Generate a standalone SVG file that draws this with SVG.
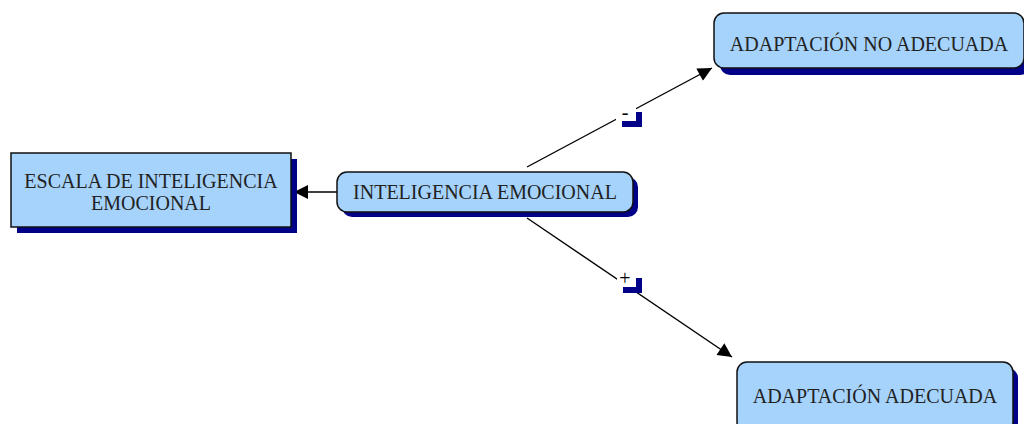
<svg xmlns="http://www.w3.org/2000/svg" width="1024" height="424" viewBox="0 0 1024 424">
<defs>
<style>
.box{fill:#a6d3fb;stroke:#111;stroke-width:1.5}
.sh{fill:#000088}
.t{font-family:"Liberation Serif","Times New Roman",serif;font-size:20px;fill:#222;text-anchor:middle}
.c{stroke:#000;stroke-width:1.4;fill:none}
.lbl{fill:#fff}
.lt{font-family:"Liberation Serif","Times New Roman",serif;font-size:20px;fill:#000;text-anchor:middle}
</style>
<marker id="ahb" viewBox="0 0 10 10" refX="10" refY="5" markerWidth="16" markerHeight="14" markerUnits="userSpaceOnUse" orient="auto">
<path d="M0,0 L10,5 L0,10 z" fill="#000"/>
</marker>
</defs>
<g id="connectors">
<line class="c" x1="337" y1="192" x2="294" y2="192" marker-end="url(#ahb)"/>
<line class="c" x1="527" y1="167" x2="712" y2="68" marker-end="url(#ahb)"/>
<line class="c" x1="527" y1="218" x2="732" y2="357" marker-end="url(#ahb)"/>
<g id="label-minus">
<rect class="sh" x="622" y="112" width="20" height="15"/>
<rect class="lbl" x="616" y="106" width="20" height="15"/>
<text class="lt" x="625" y="119">-</text>
</g>
<g id="label-plus">
<rect class="sh" x="623" y="278" width="19" height="15"/>
<rect class="lbl" x="617" y="271" width="19" height="16"/>
<text class="lt" x="625" y="285">+</text>
</g>
</g>
<g id="escala">
<rect class="sh" x="17" y="159" width="280" height="74"/>
<rect class="box" x="11" y="153" width="280" height="74"/>
<text class="t" x="151" y="188">ESCALA DE INTELIGENCIA</text>
<text class="t" x="151" y="210">EMOCIONAL</text>
</g>
<g id="inteligencia">
<rect class="sh" x="342" y="177" width="296" height="40" rx="10"/>
<rect class="box" x="337" y="172" width="296" height="40" rx="10"/>
<text class="t" x="485" y="199">INTELIGENCIA EMOCIONAL</text>
</g>
<g id="no-adecuada">
<rect class="sh" x="720" y="20" width="310" height="55" rx="10"/>
<rect class="box" x="714" y="13" width="310" height="55" rx="10"/>
<text class="t" x="869" y="51">ADAPTACIÓN NO ADECUADA</text>
</g>
<g id="adecuada">
<rect class="sh" x="742" y="368" width="276" height="70" rx="10"/>
<rect class="box" x="737" y="362" width="276" height="70" rx="10"/>
<text class="t" x="875" y="403">ADAPTACIÓN ADECUADA</text>
</g>
</svg>
